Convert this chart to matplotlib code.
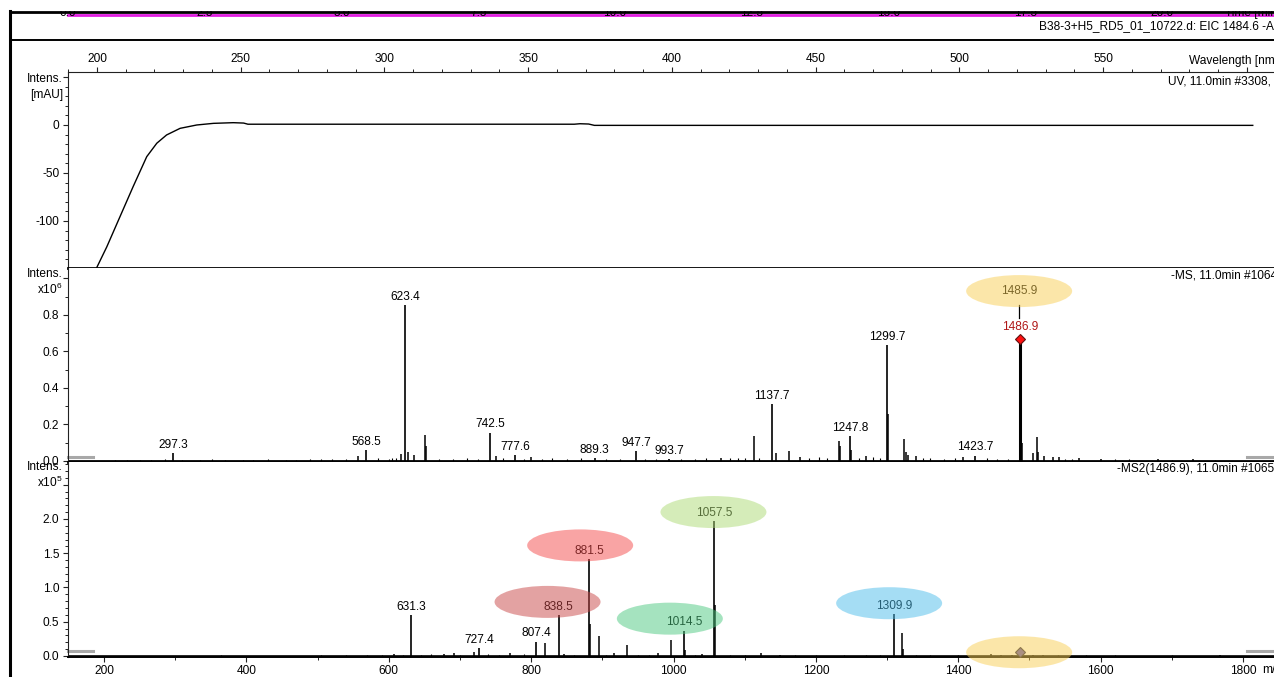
import matplotlib
matplotlib.use("Agg")
import matplotlib.pyplot as plt
import matplotlib.transforms as mtransforms
from matplotlib.patches import Ellipse, Rectangle
from matplotlib.ticker import MultipleLocator, FixedLocator, FixedFormatter

W, H = 1274, 677
FS = 8.6
plt.rcParams['font.family'] = ['Liberation Sans', 'DejaVu Sans']
plt.rcParams['font.size'] = FS
plt.rcParams['mathtext.fontset'] = 'custom'
plt.rcParams['mathtext.rm'] = 'Liberation Sans'
plt.rcParams['mathtext.default'] = 'regular'

# --- chromatogram strip (only its time axis is visible) ---
time_ticks = [0.0, 2.5, 5.0, 7.5, 10.0, 12.5, 15.0, 17.5, 20.0]
eic_time = [0.0, 22.4]
eic_int = [0.0, 0.0]

# --- UV spectrum (nm, mAU) ---
uv_nm = [199, 200, 203.4, 208, 212.6, 217.3, 220.8, 224.2, 228.9, 234.7, 240.5,
         247.4, 251, 252.5, 300, 366, 368, 371, 373, 450, 550, 602]
uv_mau = [-156, -148, -127, -95.5, -64, -33, -19, -10.4, -3.5, 0, 1.7,
          2.4, 2.0, 0.8, 0.8, 0.8, 1.3, 1.0, -0.4, -0.4, -0.4, -0.4]
wl_ticks = [200, 250, 300, 350, 400, 450, 500, 550, 600]

# --- MS spectrum (m/z, intensity x10^6) ---
ms_label_mz = [297.3, 568.5, 623.4, 742.5, 777.6, 889.3, 947.7, 993.7,
               1137.7, 1247.8, 1299.7, 1423.7]
ms_label_int = [0.042, 0.06, 0.855, 0.155, 0.033, 0.015, 0.055, 0.012,
                0.31, 0.137, 0.635, 0.03]
ms_other_mz = [557, 617, 626.4, 636, 650.4, 652, 750, 800, 1067, 1113, 1144, 1162,
               1178, 1232, 1234, 1250, 1271, 1300.7, 1324, 1326, 1329, 1341, 1407,
               1487.9, 1488.9, 1505, 1510.6, 1512, 1521, 1533, 1541, 1570, 1600,
               1680, 1730]
ms_other_int = [0.025, 0.04, 0.05, 0.035, 0.142, 0.08, 0.03, 0.02, 0.015, 0.137,
                0.045, 0.055, 0.02, 0.11, 0.08, 0.06, 0.03, 0.26, 0.12, 0.05, 0.035,
                0.03, 0.02, 0.29, 0.1, 0.045, 0.13, 0.05, 0.03, 0.02, 0.02, 0.015,
                0.01, 0.012, 0.01]
ms_noise_mz = [215, 232, 250, 266, 285, 310, 335, 352, 370, 395, 410, 430, 455, 470,
               490, 505, 520, 540, 585, 600, 605, 610, 670, 690, 710, 725, 760, 790,
               815, 830, 850, 870, 905, 925, 960, 975, 1010, 1030, 1045, 1080, 1090,
               1100, 1120, 1190, 1205, 1215, 1260, 1280, 1290, 1350, 1360, 1380, 1395,
               1440, 1455, 1470, 1550, 1560, 1620, 1640, 1700, 1760]
ms_noise_int = [0.006, 0.005, 0.008, 0.006, 0.01, 0.007, 0.006, 0.009, 0.007, 0.008,
                0.006, 0.01, 0.008, 0.007, 0.011, 0.009, 0.012, 0.01, 0.014, 0.012,
                0.016, 0.015, 0.013, 0.012, 0.015, 0.011, 0.014, 0.012, 0.013, 0.015,
                0.012, 0.014, 0.011, 0.012, 0.01, 0.013, 0.012, 0.011, 0.014, 0.015,
                0.016, 0.017, 0.018, 0.015, 0.02, 0.016, 0.018, 0.02, 0.017, 0.015,
                0.016, 0.013, 0.014, 0.015, 0.012, 0.013, 0.011, 0.012, 0.01, 0.009,
                0.008, 0.007]
ms_precursor_mz = 1486.9
ms_precursor_int = 0.668
ms_precursor_tag = 1485.9

# --- MS2 spectrum (m/z, intensity x10^5) ---
ms2_label_mz = [631.3, 727.4, 807.4, 838.5, 881.5, 1014.5, 1057.5, 1309.9]
ms2_label_int = [0.60, 0.12, 0.21, 0.60, 1.41, 0.37, 1.97, 0.61]
ms2_other_mz = [608, 677, 692, 720, 771, 820, 846, 882.5, 896, 917, 934, 978, 997,
                1015.5, 1040, 1058.5, 1123, 1150, 1321, 1322, 1446, 1460, 1475,
                1505, 1519, 1768]
ms2_other_int = [0.03, 0.035, 0.045, 0.06, 0.05, 0.195, 0.03, 0.47, 0.29, 0.04, 0.16,
                 0.05, 0.24, 0.09, 0.03, 0.745, 0.04, 0.015, 0.33, 0.10, 0.03, 0.015,
                 0.012, 0.01, 0.01, 0.02]
ms2_noise_mz = [364, 505, 540, 570, 590, 620, 645, 660, 700, 740, 755, 790, 860, 905,
                950, 965, 1030, 1080, 1100, 1170, 1200, 1240, 1270, 1290, 1340, 1360,
                1400, 1540, 1580, 1620, 1700]
ms2_noise_int = [0.01, 0.008, 0.01, 0.012, 0.015, 0.02, 0.02, 0.025, 0.02, 0.025,
                 0.02, 0.025, 0.02, 0.02, 0.02, 0.015, 0.015, 0.012, 0.01, 0.01,
                 0.012, 0.01, 0.012, 0.015, 0.015, 0.01, 0.008, 0.01, 0.008, 0.012,
                 0.008]
ms2_precursor_int = 0.055

# highlighted fragments: colour, ellipse centre offset from peak top (px)
ms2_blobs = {881.5: ('#f54b4b', -9, 14),
             838.5: ('#c94747', -11, 13),
             1057.5: ('#addb75', -1, 9),
             1014.5: ('#4dc981', -14, 12),
             1309.9: ('#4dbdeb', -5, 11)}
yellow = '#f9cf55'
BLOB_W, BLOB_H = 106, 32


def box(l, t, r, b):
    return [l / W, 1 - b / H, (r - l) / W, (b - t) / H]


def px_size(ax, wpx, hpx):
    x0, x1 = ax.get_xlim()
    y0, y1 = ax.get_ylim()
    pos = ax.get_position()
    return wpx * (x1 - x0) / (pos.width * W), hpx * (y1 - y0) / (pos.height * H)


def blob(ax, x, y, dxp, dyp, color):
    sx, sy = px_size(ax, 1, 1)
    w, h = px_size(ax, BLOB_W, BLOB_H)
    e = Ellipse((x + dxp * sx, y + dyp * sy), w, h, facecolor=color,
                edgecolor='none', alpha=0.5, zorder=5, clip_on=False)
    ax.add_patch(e)


def style(ax):
    for s in ax.spines.values():
        s.set_linewidth(0.8)
        s.set_color('#222222')
    ax.spines['right'].set_visible(False)
    ax.tick_params(which='major', length=3.8, width=0.8, colors='#222222',
                   labelcolor='black', labelsize=FS)
    ax.tick_params(which='minor', length=2.2, width=0.7, colors='#222222')
    ax.tick_params(axis='y', pad=2.5)


fig = plt.figure(figsize=(W / 100, H / 100), dpi=100)

# ---------- top strip ----------
axs = fig.add_axes(box(10, 12, 1290, 40))
axs.set_xlim(-58 / 54.7, (1290 - 68) / 54.7)
axs.set_ylim(0, 28)
axs.set_xticks([])
axs.set_yticks([])
for k, s in axs.spines.items():
    s.set_visible(k in ('top', 'bottom'))
    s.set_zorder(4)
axs.spines['top'].set_linewidth(2.0)
axs.spines['bottom'].set_linewidth(1.4)
axs.plot(eic_time, [v + 25.5 for v in eic_int], color='#e01ee0', lw=2.0, zorder=1)
for t in time_ticks:
    axs.text(t, 24.2, f"{t:.1f}", ha='center', va='baseline', fontsize=FS, zorder=2)
axs.text(21.15, 24.2, "Time [min]", ha='left', va='baseline', fontsize=FS, zorder=2)
axs.text((1039 - 68) / 54.7, 14, "B38-3+H5_RD5_01_10722.d: EIC 1484.6 -All MS",
         ha='left', va='center', fontsize=FS)
# the window above the strip hides the top half of the time labels
fig.add_artist(Rectangle((0, 1 - 11.2 / H), 1, 11.2 / H, transform=fig.transFigure,
                         facecolor='white', edgecolor='none', zorder=10))

# outer frame line on the left
fig.add_artist(plt.Line2D([10 / W, 10 / W], [0, 1 - 11 / H], color='black', lw=2.2,
                          zorder=11))

# ---------- UV panel ----------
ax1 = fig.add_axes(box(68, 72, 1290, 268))
ax1.plot(uv_nm, uv_mau, color='black', lw=1.0)
ax1.set_xlim(200 - 29 / 2.875, 200 + (1290 - 97) / 2.875)
ax1.set_ylim(-149, 55.2)
style(ax1)
ax1.spines['bottom'].set_linewidth(2.0)
ax1.spines['bottom'].set_color('black')
ax1.xaxis.tick_top()
ax1.xaxis.set_major_locator(FixedLocator(wl_ticks))
ax1.xaxis.set_major_formatter(FixedFormatter([str(v) for v in wl_ticks[:-1]] + ['']))
ax1.xaxis.set_minor_locator(MultipleLocator(10))
ax1.tick_params(axis='x', pad=1.5)
ax1.yaxis.set_major_locator(FixedLocator([-100, -50, 0, 50]))
ax1.yaxis.set_major_formatter(FixedFormatter(['-100', '-50', '0', '']))
ax1.yaxis.set_minor_locator(MultipleLocator(10))
fig.text(1168 / W, 1 - 81 / H, "UV, 11.0min #3308,", ha='left', va='center', fontsize=FS)
fig.text(1189 / W, 1 - 61 / H, "Wavelength [nm]", ha='left', va='center', fontsize=FS)
fig.text(63 / W, 1 - 79 / H, "Intens.", ha='right', va='center', fontsize=FS)
fig.text(63 / W, 1 - 95 / H, "[mAU]", ha='right', va='center', fontsize=FS)

# ---------- MS panel ----------
mz_lim = (200 - 36 / 0.7119, 200 + (1290 - 104) / 0.7119)
ax2 = fig.add_axes(box(68, 268, 1290, 462))
ax2.set_xlim(mz_lim)
ax2.set_ylim(-0.0055, 1.0575)
style(ax2)
ax2.spines['top'].set_visible(False)
ax2.spines['bottom'].set_linewidth(2.0)
ax2.spines['bottom'].set_color('black')
ax2.tick_params(axis='x', which='both', bottom=False, labelbottom=False)
ax2.yaxis.set_major_locator(FixedLocator([0, 0.2, 0.4, 0.6, 0.8, 1.0]))
ax2.yaxis.set_major_formatter(FixedFormatter(['0.0', '0.2', '0.4', '0.6', '0.8', '']))
ax2.yaxis.set_minor_locator(MultipleLocator(0.1))
ax2.axhline(0, color='black', lw=1.3, zorder=2)
ax2.vlines(ms_noise_mz, 0, ms_noise_int, color='black', lw=0.8)
ax2.vlines(ms_other_mz, 0, ms_other_int, color='black', lw=1.1)
ax2.vlines(ms_label_mz, 0, ms_label_int, color='black', lw=1.2)
ax2.vlines([ms_precursor_mz], 0, [ms_precursor_int], color='black', lw=2.2)
for m, v in zip(ms_label_mz, ms_label_int):
    ax2.annotate(f"{m:.1f}", (m, v), xytext=(0, 1.6), textcoords='offset points',
                 ha='center', va='bottom', fontsize=FS, zorder=3)
ax2.plot([ms_precursor_mz], [ms_precursor_int], marker='D', ms=5.5, color='#ff1010',
         mec='#601010', mew=0.8, zorder=4)
ax2.annotate(f"{ms_precursor_mz:.1f}", (ms_precursor_mz, ms_precursor_int),
             xytext=(0, 4.2), textcoords='offset points', ha='center', va='bottom',
             fontsize=FS, color='#b01818', zorder=3)
sx, sy = px_size(ax2, 1, 1)
tag_y = ms_precursor_int + 48 * sy
ax2.text(ms_precursor_mz - sx, tag_y, f"{ms_precursor_tag:.1f}", ha='center',
         va='center', fontsize=FS, zorder=3)
ax2.plot([ms_precursor_mz - sx] * 2, [tag_y - 14 * sy, tag_y - 27 * sy],
         color='black', lw=0.9, zorder=3)
blob(ax2, ms_precursor_mz, ms_precursor_int, -1, 48, yellow)
fig.text(1171 / W, 1 - 275 / H, "-MS, 11.0min #1064", ha='left', va='center', fontsize=FS)
zero_tr2 = mtransforms.blended_transform_factory(ax2.transAxes, ax2.transData)
ax2.plot([0, 25 / 1222], [0.022, 0.022], color='#a8a8a8', lw=2.2, transform=zero_tr2,
         clip_on=False)
ax2.plot([(1247 - 68) / 1222, 1.0], [0.022, 0.022], color='#a8a8a8', lw=2.2,
         transform=zero_tr2, clip_on=False)
fig.text(63 / W, 1 - 274 / H, "Intens.", ha='right', va='center', fontsize=FS)
fig.text(63 / W, 1 - 289 / H, "x10$^{6}$", ha='right', va='center', fontsize=FS)

# ---------- MS2 panel ----------
ax3 = fig.add_axes(box(68, 462, 1290, 657))
ax3.set_xlim(mz_lim)
ax3.set_ylim(-0.0146, 2.832)
style(ax3)
ax3.spines['top'].set_visible(False)
ax3.spines['bottom'].set_linewidth(1.4)
ax3.spines['bottom'].set_color('black')
ax3.xaxis.set_major_locator(MultipleLocator(200))
ax3.xaxis.set_minor_locator(MultipleLocator(100))
ax3.tick_params(axis='x', pad=2.0)
ax3.yaxis.set_major_locator(FixedLocator([0, 0.5, 1.0, 1.5, 2.0, 2.5]))
ax3.yaxis.set_major_formatter(FixedFormatter(['0.0', '0.5', '1.0', '1.5', '2.0', '']))
ax3.yaxis.set_minor_locator(MultipleLocator(0.1))
ax3.axhline(0, color='black', lw=1.2, zorder=2)
ax3.vlines(ms2_noise_mz, 0, ms2_noise_int, color='black', lw=0.8)
ax3.vlines(ms2_other_mz, 0, ms2_other_int, color='black', lw=1.1)
ax3.vlines(ms2_label_mz, 0, ms2_label_int, color='black', lw=1.2)
for m, v in zip(ms2_label_mz, ms2_label_int):
    ax3.annotate(f"{m:.1f}", (m, v), xytext=(0, 1.6), textcoords='offset points',
                 ha='center', va='bottom', fontsize=FS, zorder=3)
    if m in ms2_blobs:
        c, dx, dy = ms2_blobs[m]
        blob(ax3, m, v, dx, dy, c)
ax3.plot([ms_precursor_mz], [ms2_precursor_int], marker='D', ms=5.5, color='#5a4fb0',
         mec='#202040', mew=0.8, zorder=4)
blob(ax3, ms_precursor_mz, ms2_precursor_int, -1, 0, yellow)
fig.text(1117 / W, 1 - 469 / H, "-MS2(1486.9), 11.0min #1065", ha='left', va='center',
         fontsize=FS)
zero_tr3 = mtransforms.blended_transform_factory(ax3.transAxes, ax3.transData)
ax3.plot([0, 25 / 1222], [0.073, 0.073], color='#a8a8a8', lw=2.2, transform=zero_tr3,
         clip_on=False)
ax3.plot([(1247 - 68) / 1222, 1.0], [0.073, 0.073], color='#a8a8a8', lw=2.2,
         transform=zero_tr3, clip_on=False)
fig.text(63 / W, 1 - 467 / H, "Intens.", ha='right', va='center', fontsize=FS)
fig.text(63 / W, 1 - 482 / H, "x10$^{5}$", ha='right', va='center', fontsize=FS)
fig.text(1262 / W, 1 - 670 / H, "m/z", ha='left', va='center', fontsize=FS)

fig.savefig("out.png", dpi=100)
